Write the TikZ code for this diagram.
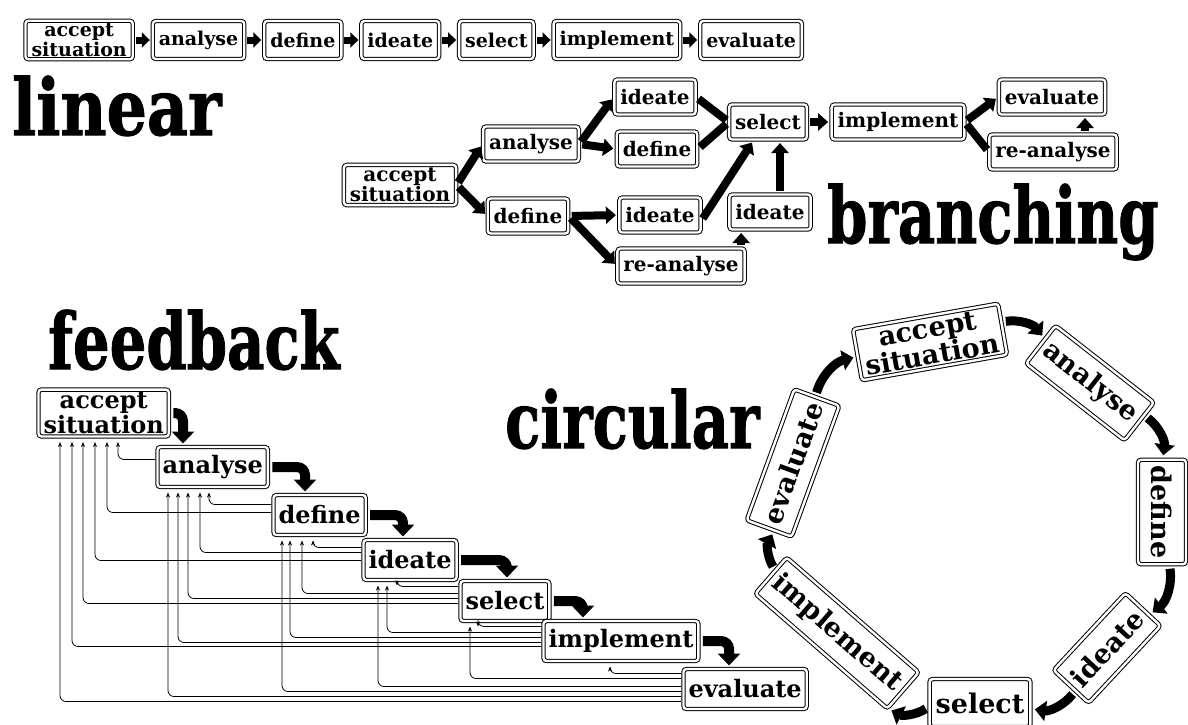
\documentclass[tikz,border=0pt]{standalone}
\usepackage{fontspec}
\setmainfont{DejaVu Serif}
\newfontfamily\headfont{DejaVu Serif Bold}[FakeBold=1.4]
\usepackage{tikz}
\usetikzlibrary{positioning,arrows.meta}

\tikzset{
  stage/.style={draw,double,double distance=2.4pt,line width=1pt,rounded corners=3pt,
    inner xsep=6pt,inner ysep=3pt,align=center},
  linbox/.style={stage,font=\bfseries\fontsize{19}{15}\selectfont,minimum height=38pt},
  brbox/.style={stage,font=\bfseries\fontsize{20}{16}\selectfont,minimum height=35pt},
  fbbox/.style={stage,font=\bfseries\fontsize{24}{19}\selectfont,minimum height=40pt,inner xsep=5pt},
  cbox/.style={stage,font=\bfseries\fontsize{27}{21}\selectfont,minimum height=48pt},
  heading/.style={font=\headfont\fontsize{78}{78}\selectfont,inner sep=0pt,anchor=base west,xscale=0.74},
  linarr/.style={line width=7pt,-{Triangle[length=8pt,width=15pt]},shorten <=2.5pt,shorten >=2.5pt},
  brarr/.style={line width=8pt,-{Triangle[length=10pt,width=17pt]},shorten <=3pt,shorten >=3pt},
  brline/.style={line width=8pt,shorten <=3pt,shorten >=3pt},
  bent/.style={line width=10pt,rounded corners=8pt,-{Triangle[length=12pt,width=22pt]},shorten <=4pt,shorten >=3pt},
  fbline/.style={line width=0.8pt,rounded corners=6pt,-{Stealth[length=5pt,width=4pt]}},
  circarr/.style={line width=9pt,-{Triangle[length=11pt,width=20pt]},shorten <=4pt,shorten >=4pt}
}

\begin{document}
\begin{tikzpicture}[x=1pt,y=1pt]
\path[use as bounding box,fill=white] (0,0) rectangle (1188,-724);

% linear
\node[linbox,anchor=west] (la) at (25,-40) {accept\\situation};
\node[linbox,right=19pt of la] (lb) {analyse};
\node[linbox,right=19pt of lb] (lc) {define};
\node[linbox,right=19pt of lc] (ld) {ideate};
\node[linbox,right=19pt of ld] (le) {select};
\node[linbox,right=19pt of le] (lf) {implement};
\node[linbox,right=19pt of lf] (lg) {evaluate};
\foreach \a/\b in {la/lb,lb/lc,lc/ld,ld/le,le/lf,lf/lg}
  \draw[linarr] (\a) -- (\b);
\node[heading,xscale=1.1] (tlin) at (12,-135) {linear};

% branching
\node[brbox] (ba) at (400,-185) {accept\\situation};
\node[brbox] (bb) at (531,-144) {analyse};
\node[brbox] (bc) at (528,-216) {define};
\node[brbox] (bd) at (655,-97) {ideate};
\node[brbox] (be) at (657,-149) {define};
\node[brbox] (bf) at (660,-215) {ideate};
\node[brbox] (bg) at (681,-266) {re-analyse};
\node[brbox] (bs) at (768,-122) {select};
\node[brbox] (bh) at (770,-212) {ideate};
\node[brbox] (bi) at (898,-122) {implement};
\node[brbox] (bj) at (1052,-97) {evaluate};
\node[brbox] (bk) at (1053,-152) {re-analyse};
\draw[brarr] (ba.east) -- (bb.west);
\draw[brarr] (ba.east) -- (bc.west);
\draw[brarr] (bb.east) -- (bd.west);
\draw[brarr] (bb.east) -- (be.west);
\draw[brline] (bd.east) -- (bs.west);
\draw[brline] (be.east) -- (bs.west);
\draw[brarr] (bc.east) -- (bf.west);
\draw[brarr] (bc.east) -- (bg.west);
\draw[brarr] ([yshift=-6pt]bf.east) -- ([xshift=25pt]bs.south west);
\coordinate (g1) at ([xshift=-4pt]bg.north east);
\draw[brarr] (g1) -- (g1 |- bh.south);
\coordinate (h1) at ([xshift=10pt]bh.north);
\draw[brarr] (h1) -- (h1 |- bs.south);
\draw[brarr] (bs.east) -- (bi.west);
\draw[brarr] (bi.east) -- (bj.west);
\draw[brline] (bi.east) -- (bk.west);
\coordinate (k1) at ([xshift=32pt]bk.north);
\draw[brarr] (k1) -- (k1 |- bj.south);
\node[heading] (tbr) at (827,-243) {branching};

% feedback
\node[heading] (tfb) at (48,-369) {feedback};
\node[fbbox,anchor=west] (fa) at (38,-413) {accept\\situation};
\node[fbbox,anchor=west] (fb) at (157,-467) {analyse};
\node[fbbox,anchor=west] (fc) at (273,-515) {define};
\node[fbbox,anchor=west] (fd) at (363,-560) {ideate};
\node[fbbox,anchor=west] (fe) at (460,-601) {select};
\node[fbbox,anchor=west] (ff) at (543,-641) {implement};
\node[fbbox,anchor=west] (fg) at (683,-689) {evaluate};
\draw[bent] (fa.east) -| ([xshift=26pt]fb.north west);
\draw[bent] (fb.east) -| ([xshift=32pt]fc.north west);
\draw[bent] (fc.east) -| ([xshift=40pt]fd.north west);
\draw[bent] (fd.east) -| ([xshift=47pt]fe.north west);
\draw[bent] (fe.east) -| ([xshift=40pt]ff.north west);
\draw[bent] (ff.east) -| ([xshift=46pt]fg.north west);
\foreach \s/\t/\dy/\dx in {fb/fa/13/80,
    fc/fb/10/52,fc/fa/18/69,
    fd/fc/8/40,fd/fb/13/43,fd/fa/21/57,
    fe/fd/6/34,fe/fc/13/29,fe/fb/18/31,fe/fa/23/45,
    ff/fe/6/18,ff/fd/12/24,ff/fc/17/17,ff/fb/22/21,ff/fa/26/34,
    fg/ff/5/67,fg/fe/10/10,fg/fd/18/15,fg/fc/23/9,fg/fb/28/11,fg/fa/33/22}
  \draw[fbline] ([xshift=-2pt,yshift=-\dy pt]\s.north west) -| ([xshift=\dx pt,yshift=-5pt]\t.south west);

% circular
\node[heading] (tci) at (505,-448) {circular};
\node[cbox,rotate=10] (ca) at (930,-342) {accept\\situation};
\node[cbox,rotate=-38] (cb) at (1090,-383) {analyse};
\node[cbox,rotate=-90] (cc) at (1162,-512) {define};
\node[cbox,rotate=47] (cd) at (1107,-648) {ideate};
\node[cbox] (ce) at (980,-703) {select};
\node[cbox,rotate=-41] (cf) at (837,-633) {implement};
\node[cbox,rotate=70] (cg) at (793,-463) {evaluate};
\foreach \a/\b in {ca/cb,cb/cc,cc/cd,cd/ce,ce/cf,cf/cg,cg/ca}
  \draw[circarr] (\a) to[bend left=30] (\b);
\end{tikzpicture}
\end{document}
